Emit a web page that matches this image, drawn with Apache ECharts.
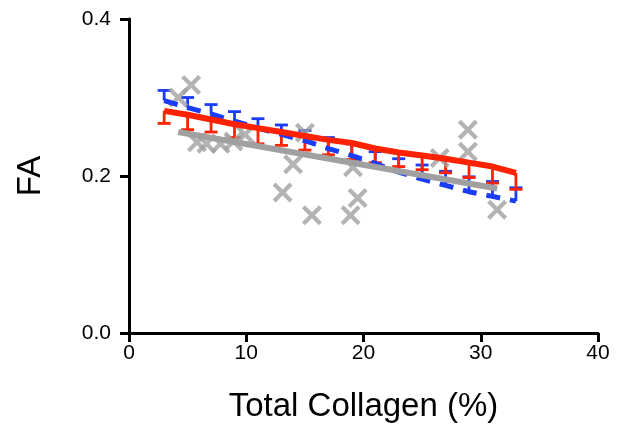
<!DOCTYPE html>
<html>
<head>
<meta charset="utf-8">
<script src="https://cdn.jsdelivr.net/npm/echarts@6/dist/echarts.min.js"></script>
<style>
  html, body { margin: 0; padding: 0; background: #fff; }
  #chart { width: 629px; height: 429px; }
</style>
</head>
<body>
<div id="chart"></div>
<script>
// binned means with error bars
const binX = [3, 5, 7, 9, 11, 13, 15, 17, 19, 21, 23, 25, 27, 29, 31, 33];
const redMean = [0.283, 0.278, 0.272, 0.266, 0.261, 0.256, 0.251, 0.246, 0.242, 0.235, 0.230, 0.226, 0.222, 0.217, 0.212, 0.204];
const redErr = [0.016, 0.019, 0.016, 0.017, 0.020, 0.017, 0.018, 0.019, 0.021, 0.018, 0.018, 0.018, 0.018, 0.019, 0.021, 0.021];
const blueMean = [0.296, 0.287, 0.279, 0.270, 0.261, 0.253, 0.245, 0.235, 0.226, 0.216, 0.205, 0.196, 0.188, 0.180, 0.174, 0.168];
const blueErr = [0.013, 0.013, 0.012, 0.012, 0.012, 0.012, 0.013, 0.014, 0.015, 0.015, 0.017, 0.018, 0.018, 0.019, 0.019, 0.017];

// individual samples
const sampleX = [4.2, 5.3, 5.8, 6.6, 7.8, 8.9, 9.9, 13.1, 14.0, 15.0, 15.6, 18.9, 19.1, 19.5, 26.5, 28.9, 28.9, 31.4];
const sampleY = [0.300, 0.316, 0.243, 0.241, 0.241, 0.244, 0.253, 0.179, 0.215, 0.255, 0.150, 0.150, 0.211, 0.172, 0.223, 0.259, 0.231, 0.157];

// linear fit over the sample range
const fitX = [4.2, 31.4];
const fitY = [0.256, 0.184];

const xTicks = [0, 10, 20, 30, 40];
const yTicks = [0.0, 0.2, 0.4];

const RED = '#ff2200';
const BLUE = '#1a3cf5';
const GREY = '#a0a0a0';
const FONT = '"Liberation Sans", Arial, sans-serif';

const pairs = (xs, ys) => xs.map((x, i) => [x, ys[i]]);

function errorBars(color, sign) {
  return function (params, api) {
    const x = api.value(0);
    const y = api.value(1);
    const e = api.value(2) * sign;
    const p0 = api.coord([x, y]);
    const p1 = api.coord([x, y + e]);
    const style = { stroke: color, lineWidth: 2.8 };
    return {
      type: 'group',
      children: [
        { type: 'line', shape: { x1: p0[0], y1: p0[1], x2: p1[0], y2: p1[1] }, style: style },
        { type: 'line', shape: { x1: p1[0] - 6.5, y1: p1[1], x2: p1[0] + 6.5, y2: p1[1] }, style: style },
      ],
    };
  };
}

const chart = echarts.init(document.getElementById('chart'));
chart.setOption({
  animation: false,
  grid: { left: 129, right: 31, top: 19, bottom: 96, containLabel: false },
  xAxis: {
    type: 'value',
    min: xTicks[0],
    max: xTicks[xTicks.length - 1],
    interval: 10,
    name: 'Total Collagen (%)',
    nameLocation: 'middle',
    nameGap: 57,
    nameTextStyle: { fontSize: 33, color: '#000', fontFamily: FONT },
    axisLine: { lineStyle: { color: '#000', width: 3 } },
    axisTick: { length: 9, lineStyle: { color: '#000', width: 3 } },
    axisLabel: { margin: 10, fontSize: 21, color: '#000', fontFamily: FONT },
    splitLine: { show: false },
  },
  yAxis: {
    type: 'value',
    min: yTicks[0],
    max: yTicks[yTicks.length - 1],
    interval: 0.2,
    name: 'FA',
    nameLocation: 'middle',
    nameRotate: 90,
    nameGap: 82,
    nameTextStyle: { fontSize: 33, color: '#000', fontFamily: FONT },
    axisLine: { show: true, lineStyle: { color: '#000', width: 3 } },
    axisTick: { show: true, length: 9, lineStyle: { color: '#000', width: 3 } },
    axisLabel: { margin: 18, fontSize: 21, color: '#000', fontFamily: FONT, formatter: (v) => v.toFixed(1) },
    splitLine: { show: false },
  },
  series: [
    {
      type: 'scatter',
      data: pairs(sampleX, sampleY),
      symbol: 'path://M0,3L3,0L10,7L17,0L20,3L13,10L20,17L17,20L10,13L3,20L0,17L7,10Z',
      symbolSize: 20,
      itemStyle: { color: GREY },
    },
    {
      type: 'custom',
      data: binX.map((x, i) => [x, blueMean[i], blueErr[i]]),
      renderItem: errorBars(BLUE, 1),
      encode: { x: 0, y: 1 },
    },
    {
      type: 'line',
      data: pairs(binX, blueMean),
      showSymbol: false,
      lineStyle: { color: BLUE, width: 5, type: [14, 10] },
    },
    {
      type: 'line',
      data: pairs(fitX, fitY),
      showSymbol: false,
      lineStyle: { color: GREY, width: 6 },
    },
    {
      type: 'custom',
      data: binX.map((x, i) => [x, redMean[i], redErr[i]]),
      renderItem: errorBars(RED, -1),
      encode: { x: 0, y: 1 },
    },
    {
      type: 'line',
      data: pairs(binX, redMean),
      showSymbol: false,
      lineStyle: { color: RED, width: 6 },
    },
  ],
});
</script>
</body>
</html>
